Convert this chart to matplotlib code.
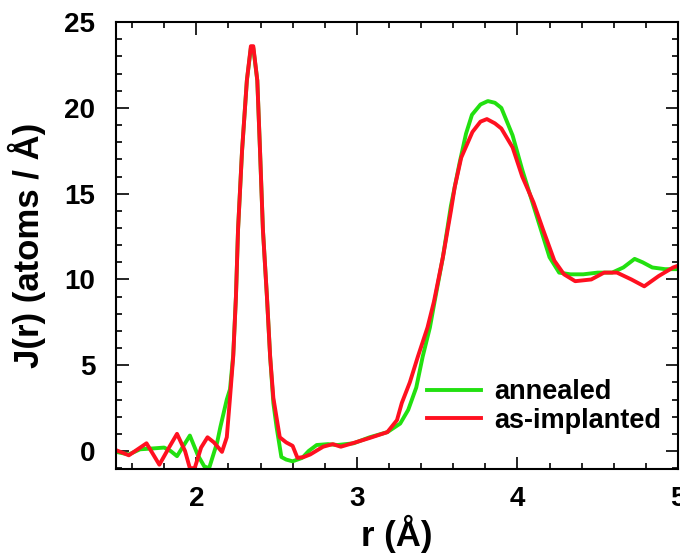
import matplotlib
matplotlib.use("Agg")
import matplotlib.pyplot as plt
from matplotlib.ticker import MultipleLocator

plt.rcParams['font.family'] = ['Liberation Sans', 'DejaVu Sans']
plt.rcParams['font.weight'] = 'bold'

# annealed sample
r_ann = [1.50, 1.58, 1.65, 1.73, 1.80, 1.84, 1.88, 1.92, 1.96, 2.01, 2.05, 2.08,
         2.13, 2.15, 2.19, 2.21, 2.23, 2.247, 2.26, 2.285, 2.315, 2.34, 2.355,
         2.38, 2.397, 2.415, 2.44, 2.46, 2.48, 2.50, 2.53, 2.56, 2.60, 2.66,
         2.70, 2.75, 2.82, 2.88, 2.98, 3.08, 3.19, 3.27, 3.32, 3.37, 3.41,
         3.455, 3.486, 3.536, 3.586, 3.64, 3.68, 3.717, 3.77, 3.816, 3.86,
         3.90, 3.97, 4.03, 4.08, 4.14, 4.20, 4.26, 4.33, 4.41, 4.50, 4.59,
         4.66, 4.73, 4.78, 4.84, 4.92, 5.00]
j_ann = [-0.05, -0.2, 0.1, 0.15, 0.2, 0.0, -0.3, 0.3, 0.9, -0.25, -0.9, -1.0,
         0.5, 1.4, 3.0, 3.6, 5.6, 9.0, 12.9, 17.5, 21.6, 23.5, 23.5,
         21.6, 17.5, 12.9, 9.0, 5.5, 2.8, 1.4, -0.35, -0.5, -0.6, -0.4,
         0.0, 0.35, 0.4, 0.35, 0.45, 0.8, 1.1, 1.6, 2.4, 3.7, 5.5,
         7.2, 8.8, 11.3, 14.3, 16.8, 18.5, 19.6, 20.2, 20.4, 20.3,
         20.0, 18.4, 16.4, 14.9, 13.1, 11.3, 10.4, 10.3, 10.3, 10.4, 10.4,
         10.7, 11.2, 11.0, 10.7, 10.6, 10.6]

# as-implanted sample
r_imp = [1.50, 1.58, 1.69, 1.77, 1.83, 1.88, 1.93, 1.96, 1.99, 2.03, 2.07, 2.11,
         2.16, 2.19, 2.21, 2.23, 2.247, 2.26, 2.285, 2.315, 2.34, 2.355, 2.38,
         2.397, 2.415, 2.44, 2.46, 2.48, 2.52, 2.56, 2.60, 2.63, 2.67, 2.71,
         2.79, 2.85, 2.90, 2.98, 3.08, 3.19, 3.25, 3.28, 3.33, 3.38, 3.44,
         3.48, 3.536, 3.586, 3.61, 3.65, 3.72, 3.77, 3.81, 3.86, 3.90, 3.97,
         4.03, 4.10, 4.16, 4.23, 4.29, 4.36, 4.46, 4.54, 4.62, 4.71, 4.79,
         4.88, 4.97, 5.00]
j_imp = [0.05, -0.25, 0.45, -0.8, 0.2, 1.0, 0.0, -1.0, -1.0, 0.2, 0.8, 0.5,
         -0.05, 0.8, 3.1, 5.5, 9.0, 12.9, 17.5, 21.6, 23.6, 23.6, 21.6,
         17.5, 12.9, 9.0, 5.5, 3.1, 0.8, 0.5, 0.3, -0.4, -0.35, -0.2,
         0.25, 0.4, 0.25, 0.47, 0.76, 1.1, 1.8, 2.8, 4.0, 5.5, 7.2,
         8.7, 11.3, 14.0, 15.4, 17.1, 18.6, 19.2, 19.35, 19.1, 18.8, 17.7,
         16.0, 14.5, 12.9, 11.1, 10.3, 9.9, 10.0, 10.4, 10.4, 10.0, 9.6,
         10.2, 10.7, 10.8]

fig = plt.figure(figsize=(6.8, 5.54), dpi=100)
ax = fig.add_axes([0.1706, 0.1534, 0.8264, 0.8066])

ax.plot(r_ann, j_ann, color='#22e010', lw=2.8, label='annealed')
ax.plot(r_imp, j_imp, color='#ff1020', lw=2.8, label='as-implanted')

ax.set_xlim(1.5, 5.0)
ax.set_ylim(-1.05, 25)
ax.xaxis.set_major_locator(MultipleLocator(1))
ax.xaxis.set_minor_locator(MultipleLocator(0.2))
ax.yaxis.set_major_locator(MultipleLocator(5))
ax.yaxis.set_minor_locator(MultipleLocator(1))
ax.tick_params(which='both', direction='in', top=True, right=True, width=1.2)
ax.tick_params(which='major', length=9, labelsize=20)
ax.tick_params(which='minor', length=4.5)
ax.tick_params(axis='x', which='major', pad=12)
ax.tick_params(axis='y', which='major', pad=15)
for s in ax.spines.values():
    s.set_linewidth(1.5)

ax.set_xlabel('r (Å)', fontsize=25, fontweight='bold', labelpad=2)
ax.set_ylabel('J(r) (atoms / Å)', fontsize=25, fontweight='bold', labelpad=13)

ax.legend(loc='center left', bbox_to_anchor=(0.553, 0.14), frameon=False,
          fontsize=19.5, handlelength=2.0, handletextpad=0.5, labelspacing=0.1,
          borderpad=0, borderaxespad=0)

fig.savefig('out.png', dpi=100)
